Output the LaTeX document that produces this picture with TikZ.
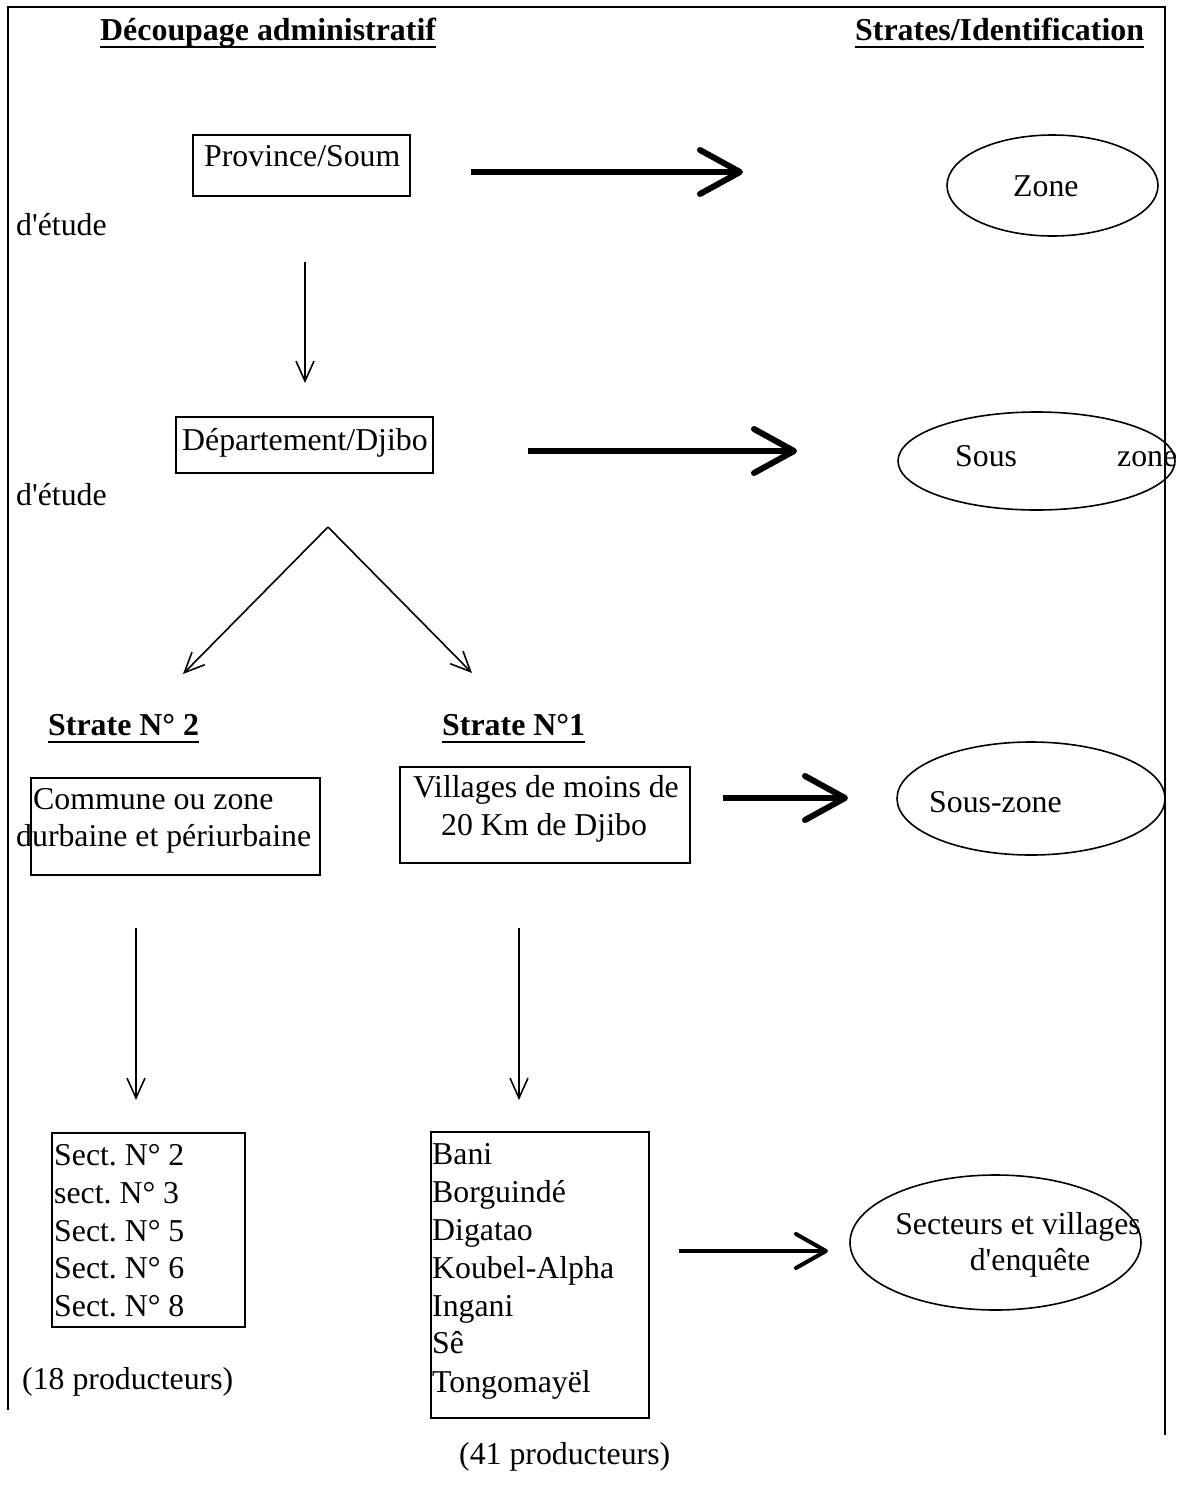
\documentclass[tikz,border=0pt]{standalone}
\usepackage{fontspec}
\setmainfont{Liberation Serif}[Ligatures=TeXOff]
\usetikzlibrary{arrows.meta,shapes.geometric}
\frenchspacing
\begin{document}
\begin{tikzpicture}[x=1pt,y=-1pt,
  txt/.style={inner sep=0pt, anchor=base west, font=\fontsize{31.8}{38}\selectfont},
  ctxt/.style={inner sep=0pt, anchor=base, font=\fontsize{31.8}{38}\selectfont},
  hdr/.style={inner sep=0pt, anchor=base west, font=\fontsize{31.9}{38}\selectfont\bfseries},
  ul/.style={line width=2pt},
  box/.style={draw, line width=2pt, inner sep=0pt},
  oval/.style={draw, ellipse, line width=1.6pt, inner sep=0pt},
  thinarr/.style={line width=1.6pt, -{Straight Barb[length=20pt,width=18pt]}},
  thickarr/.style={line width=6pt, -{Straight Barb[length=40pt,width=44pt,round]}},
  midarr/.style={line width=4pt, -{Straight Barb[length=30pt,width=34pt,round]}},
  framel/.style={line width=2pt}]
\useasboundingbox (0,0) rectangle (1185,1505);
\fill[white] (0,0) rectangle (1185,1505);
% frame
\draw[framel] (8,1410) -- (8,7) -- (1165,7) -- (1165,1435);
% headers
\node[hdr] (h1) at (100,40) {Découpage administratif};
\draw[ul] ([yshift=-7pt]h1.base west) -- ([yshift=-7pt]h1.base east);
\node[hdr] (h2) at (855,40) {Strates/Identification};
\draw[ul] ([yshift=-7pt]h2.base west) -- ([yshift=-7pt]h2.base east);
% boxes
\node[box, minimum width=217pt, minimum height=61pt] (prov) at (301.5,165.5) {};
\node[box, minimum width=257pt, minimum height=56pt] (dept) at (304.5,445) {};
\node[box, minimum width=289pt, minimum height=97pt] (comm) at (175.5,826.5) {};
\node[box, minimum width=290pt, minimum height=96pt] (vill) at (545,815) {};
\node[box, minimum width=193pt, minimum height=194pt] (sect) at (148.5,1230) {};
\node[box, minimum width=218pt, minimum height=286pt] (vlist) at (540,1275) {};
% ellipses
\node[oval, minimum width=211pt, minimum height=101pt] (zone) at (1052.5,185.5) {};
\node[oval, minimum width=277pt, minimum height=98pt] (sz1) at (1036.5,461) {};
\node[oval, minimum width=268pt, minimum height=113pt] (sz2) at (1031,798.5) {};
\node[oval, minimum width=291pt, minimum height=135pt] (secv) at (995.5,1242.5) {};
% texts
\node[txt] (tprov) at (204,166) {Province/Soum};
\node[txt] (tzone) at (1013,196) {Zone};
\node[txt] (et1) at (16,235) {d'étude};
\node[txt] (tdept) at (182,450) {Département/Djibo};
\node[txt] (et2) at (16,505) {d'étude};
\node[txt] (tsous) at (955,466) {Sous};
\node[txt] (tzn) at (1117,466) {zone};
\node[hdr] (s2) at (48,735) {Strate N° 2};
\draw[ul] ([yshift=-7pt]s2.base west) -- ([yshift=-7pt]s2.base east);
\node[hdr] (s1) at (442,735) {Strate N°1};
\draw[ul] ([yshift=-7pt]s1.base west) -- ([yshift=-7pt]s1.base east);
\node[txt] (tc1) at (33,809) {Commune ou zone};
\node[txt] (tc2) at (16,846) {durbaine et périurbaine};
\node[ctxt] (tv1) at (546,797) {Villages de moins de};
\node[ctxt] (tv2) at (544,835) {20 Km de Djibo};
\node[txt] (tsz2) at (929,812) {Sous-zone};
\node[txt] (sc1) at (54,1165) {Sect. N° 2};
\node[txt] (sc2) at (54,1203) {sect. N° 3};
\node[txt] (sc3) at (54,1241) {Sect. N° 5};
\node[txt] (sc4) at (54,1278) {Sect. N° 6};
\node[txt] (sc5) at (54,1316) {Sect. N° 8};
\node[txt] (p18) at (22,1389) {(18 producteurs)};
\node[txt] (vl1) at (432,1164) {Bani};
\node[txt] (vl2) at (432,1202) {Borguindé};
\node[txt] (vl3) at (432,1240) {Digatao};
\node[txt] (vl4) at (432,1278) {Koubel-Alpha};
\node[txt] (vl5) at (432,1316) {Ingani};
\node[txt] (vl6) at (432,1353) {Sê};
\node[txt] (vl7) at (432,1392) {Tongomayël};
\node[txt] (p41) at (459,1464) {(41 producteurs)};
\node[ctxt] (ts1) at (1018,1234) {Secteurs et villages};
\node[ctxt] (ts2) at (1030,1270) {d'enquête};
% connector end points
\coordinate (a1s) at (471,172); \coordinate (a1e) at (743,172);
\coordinate (a2s) at (528,451); \coordinate (a2e) at (797,451);
\coordinate (a3s) at (723,798); \coordinate (a3e) at (848,798);
\coordinate (a4s) at (679,1251); \coordinate (a4e) at (828,1251);
\coordinate (d1s) at (305,262); \coordinate (d1e) at (305,383);
\coordinate (apex) at (328,527);
\coordinate (dl) at (183,674); \coordinate (dr) at (472,673);
\coordinate (d2s) at (136,928); \coordinate (d2e) at (136,1100);
\coordinate (d3s) at (519,928); \coordinate (d3e) at (519,1100);
% connectors
\draw[thickarr] (a1s) -- (a1e);
\draw[thickarr] (a2s) -- (a2e);
\draw[thickarr] (a3s) -- (a3e);
\draw[midarr] (a4s) -- (a4e);
\draw[thinarr] (d1s) -- (d1e);
\draw[thinarr] (apex) -- (dl);
\draw[thinarr] (apex) -- (dr);
\draw[thinarr] (d2s) -- (d2e);
\draw[thinarr] (d3s) -- (d3e);
\end{tikzpicture}
\end{document}
